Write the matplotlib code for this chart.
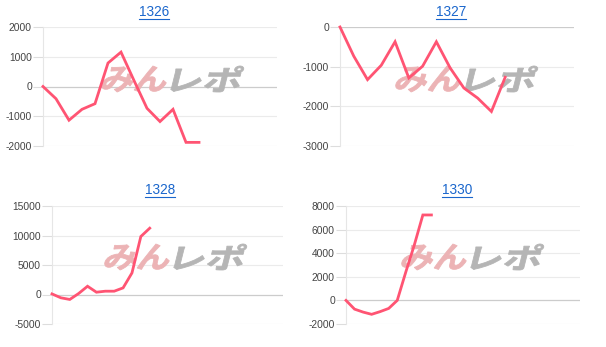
import matplotlib
matplotlib.use("Agg")
import matplotlib.pyplot as plt
from matplotlib.textpath import TextPath
from matplotlib.font_manager import FontProperties
from matplotlib.patches import PathPatch
from matplotlib.lines import Line2D
from matplotlib.transforms import Affine2D

plt.rcParams['font.family'] = ['Liberation Sans', 'DejaVu Sans']

titles = ["1326", "1327", "1328", "1330"]
values_1326 = [0, -411, -1133, -767, -578, 789, 1156, 200, -733, -1178, -767, -1878, -1878]
values_1327 = [0, -735, -1327, -964, -372, -1285, -989, -372, -1031, -1538, -1792, -2130, -1268]
values_1328 = [100, -560, -840, 170, 1400, 390, 560, 560, 1120, 3650, 9830, 11240]
values_1330 = [0, -740, -990, -1180, -950, -680, 0, 2400, 4700, 7240, 7240]
series = [values_1326, values_1327, values_1328, values_1330]
yticks = [[-2000, -1000, 0, 1000, 2000],
          [-3000, -2000, -1000, 0],
          [-5000, 0, 5000, 10000, 15000],
          [-2000, 0, 2000, 4000, 6000, 8000]]
xmax = [18, 17, 26, 27.4]

W, H = 606, 347
fig = plt.figure(figsize=(W / 100, H / 100), dpi=100)

# axes boxes in pixels: left, right, top, bottom (from top)
boxes = [(43, 277, 27, 146), (340, 574, 27, 146), (52, 283, 206, 324), (346, 580, 206, 324)]
title_pos = [(154, 12), (451, 12), (160, 190), (457, 190)]
wm_pos = [(100, 92), (394, 92), (103, 270), (400, 270)]

LINE = '#ff5473'
fp = FontProperties(family='Noto Sans CJK JP', weight='bold')


def wm_patch(text, x0, ybase, w, h, color):
    tp = TextPath((0, 0), text, size=1, prop=fp)
    ext = tp.get_extents()
    tr = (Affine2D().translate(-ext.x0, -ext.y0)
          .scale(w / ext.width, h / ext.height)
          .skew_deg(14, 0)
          .translate(x0, H - ybase))
    tr = tr + Affine2D().scale(1 / 100.0) + fig.dpi_scale_trans
    return PathPatch(tp, transform=tr, facecolor=color, edgecolor=color,
                     linewidth=0.6, zorder=2, clip_on=False)


axes = []
for i, (l, r, t, b) in enumerate(boxes):
    ax = fig.add_axes([l / W, (H - b) / H, (r - l) / W, (b - t) / H])
    axes.append(ax)
    vals = series[i]
    ax.plot(range(len(vals)), vals, color=LINE, lw=2.0, zorder=3,
            solid_joinstyle='miter', clip_on=False)
    ax.set_xlim(0, xmax[i])
    ax.set_ylim(yticks[i][0], yticks[i][-1])
    ax.set_yticks(yticks[i])
    ax.set_yticklabels([str(v) for v in yticks[i]])
    ax.set_xticks([])
    for s in ['top', 'right', 'bottom']:
        ax.spines[s].set_visible(False)
    ax.spines['left'].set_color('#e6e6e6')
    ax.spines['left'].set_linewidth(0.8)
    ax.tick_params(axis='y', length=7, width=0.8, color='#dddddd', pad=1,
                   labelsize=7.4, labelcolor='#444444')
    for v in yticks[i]:
        c = '#cccccc' if v == 0 else '#ebebeb'
        ax.axhline(v, color=c, lw=0.9 if v == 0 else 0.8, zorder=1)
    x0, yb = wm_pos[i]
    ax.add_patch(wm_patch('みん', x0, yb, 64, 26, '#ecb3b5'))
    ax.add_patch(wm_patch('レポ', x0 + 70, yb, 68, 26, '#b5b5b5'))

texts = []
for i, tt in enumerate(titles):
    x, y = title_pos[i]
    txt = fig.text(x / W, (H - y) / H, tt, ha='center', va='center',
                   fontsize=9.8, color='#1a66cc')
    texts.append(txt)

fig.canvas.draw()
for txt in texts:
    bb = txt.get_window_extent()
    y = bb.y0 + 0.5
    fig.add_artist(Line2D([bb.x0 / W, bb.x1 / W], [y / H, y / H],
                          transform=fig.transFigure, color='#1a66cc', lw=0.8))

fig.savefig('out.png', dpi=100)
